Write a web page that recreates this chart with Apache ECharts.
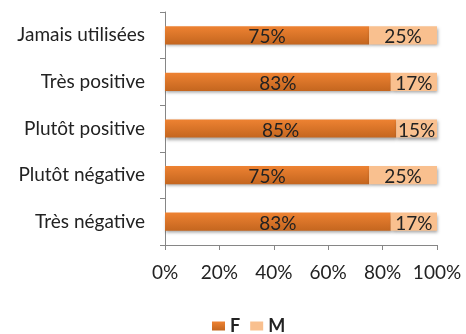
<!DOCTYPE html>
<html><head><meta charset="utf-8">
<script src="https://cdn.jsdelivr.net/npm/echarts@6/dist/echarts.min.js"></script>
<style>html,body{margin:0;padding:0;background:#fff}#c{width:466px;height:334px}</style>
</head><body><div id="c"></div>
<script>
const categories = ['Jamais utilisées','Très positive','Plutôt positive','Plutôt négative','Très négative'];
const valuesF = [75, 83, 85, 75, 83];
const valuesM = [25, 17, 15, 25, 17];
const xTicks = [0, 20, 40, 60, 80, 100];

const font = 'Lato';
const chart = echarts.init(document.getElementById('c'));
const shadow = {shadowColor:'rgba(0,0,0,0.35)', shadowBlur:3, shadowOffsetX:1, shadowOffsetY:2};
chart.setOption({
  animation:false,
  grid:{left:165, right:29, top:12, bottom:89},
  legend:{
    data:['F','M'], top:312, left:207, itemWidth:13, itemHeight:9, itemGap:10,
    icon:'rect',
    textStyle:{fontFamily:font, fontSize:18, fontWeight:'bold', color:'#222'}
  },
  xAxis:{
    type:'value', min:0, max:100, interval:20,
    axisLine:{show:true, lineStyle:{color:'#868686', width:1}},
    axisTick:{show:true, length:5, lineStyle:{color:'#868686'}},
    splitLine:{show:false},
    axisLabel:{formatter: v => xTicks.includes(v) ? v + '%' : '', margin:18, fontFamily:font, fontSize:19, color:'#222'}
  },
  yAxis:{
    type:'category', data:categories, inverse:true,
    axisLine:{show:true, lineStyle:{color:'#868686', width:1}},
    axisTick:{show:true, length:5, lineStyle:{color:'#868686'}},
    axisLabel:{margin:20, fontFamily:font, fontSize:19, color:'#222'}
  },
  series:[
    {name:'F', type:'bar', stack:'a', data:valuesF, barCategoryGap:'61%',
     itemStyle:Object.assign({color:new echarts.graphic.LinearGradient(0,0,0,1,[{offset:0,color:'#EE8232'},{offset:1,color:'#C4661F'}])}, shadow),
     label:{show:true, position:'inside', offset:[0,2], formatter:'{c}%', fontFamily:font, fontSize:19, color:'#222'}},
    {name:'M', type:'bar', stack:'a', data:valuesM,
     itemStyle:Object.assign({color:'#F9C08F'}, shadow),
     label:{show:true, position:'inside', offset:[0,2], formatter:'{c}%', fontFamily:font, fontSize:19, color:'#222'}}
  ]
});
</script></body></html>
